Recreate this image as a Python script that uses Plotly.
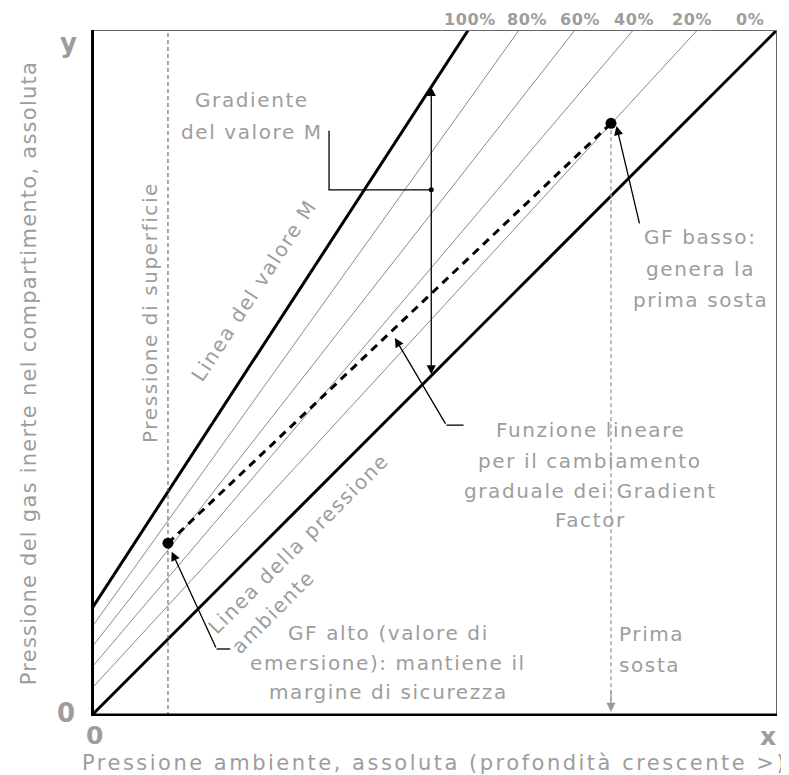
import plotly.graph_objects as go

# ---------------- data (diagram units, 0..100 on both axes) ----------------
gf_labels = ["100%", "80%", "60%", "40%", "20%", "0%"]
gf_intercepts = [15.45, 12.78, 9.87, 6.95, 3.89, 0.0]     # y at x = 0
gf_top_x = [55.0, 62.4, 70.55, 79.05, 88.4, 100.0]        # x where line reaches y = 100
gf_label_shift = [2, 8, 5, 1, -5, -27]                    # px nudge of top labels

surface_x = 11.22                      # surface pressure
gf_high = (11.22, 25.2)                # GF alto point
gf_low = (75.8, 86.4)                  # GF basso point (first stop)
gradient_x = 49.6                      # where the M-value gradient is shown

GRAY = "#9d9d9d"
FONT = "DejaVu Sans"
BODY = 20

fig = go.Figure()

# GF lines (100% = M-value line, 0% = ambient line)
for lab, b, tx in zip(gf_labels, gf_intercepts, gf_top_x):
    thick = lab in ("100%", "0%")
    fig.add_trace(go.Scatter(
        x=[0, tx], y=[b, 100], mode="lines",
        line=dict(color="black" if thick else "#8a8a8a", width=3 if thick else 1),
        hoverinfo="skip", showlegend=False))

# surface pressure dashed vertical
fig.add_trace(go.Scatter(x=[surface_x, surface_x], y=[0, 100], mode="lines",
                         line=dict(color="#555555", width=1, dash="4px,3px"),
                         hoverinfo="skip", showlegend=False))
# first stop dashed vertical (gray)
fig.add_trace(go.Scatter(x=[gf_low[0], gf_low[0]], y=[gf_low[1], 1.5], mode="lines",
                         line=dict(color="#999999", width=1.3, dash="4px,3px"),
                         hoverinfo="skip", showlegend=False))
# linear GF function
fig.add_trace(go.Scatter(x=[gf_high[0], gf_low[0]], y=[gf_high[1], gf_low[1]], mode="lines",
                         line=dict(color="black", width=3, dash="8px,6px"),
                         hoverinfo="skip", showlegend=False))
fig.add_trace(go.Scatter(x=[gf_high[0], gf_low[0]], y=[gf_high[1], gf_low[1]], mode="markers",
                         marker=dict(color="black", size=11),
                         hoverinfo="skip", showlegend=False))

# M-value gradient connector
m_b, m_tx = gf_intercepts[0], gf_top_x[0]
m_at = m_b + (100 - m_b) / m_tx * gradient_x
conn_g = ([34.7, 34.7, gradient_x], [85.3, 76.7, 76.7])
fig.add_trace(go.Scatter(x=conn_g[0], y=conn_g[1], mode="lines",
                         line=dict(color="black", width=1.3),
                         hoverinfo="skip", showlegend=False))
fig.add_trace(go.Scatter(x=[gradient_x], y=[76.7], mode="markers",
                         marker=dict(color="black", size=5),
                         hoverinfo="skip", showlegend=False))
# Funzione lineare connector (horizontal part)
fig.add_trace(go.Scatter(x=[54.3, 51.8], y=[42.4, 42.4], mode="lines",
                         line=dict(color="black", width=1.3),
                         hoverinfo="skip", showlegend=False))
# GF alto connector (horizontal part)
fig.add_trace(go.Scatter(x=[20.3, 18.3], y=[9.77, 9.77], mode="lines",
                         line=dict(color="black", width=1.3),
                         hoverinfo="skip", showlegend=False))

annotations = []


def arrow(x0, y0, x1, y1, color="black", side="end", width=1.3):
    annotations.append(dict(
        x=x1, y=y1, ax=x0, ay=y0, xref="x", yref="y", axref="x", ayref="y",
        showarrow=True, arrowhead=2, arrowsize=1.4, arrowwidth=width,
        arrowcolor=color, arrowside=side, text="", standoff=0, startstandoff=0))


def txt(x, y, s, size=BODY, color=GRAY, angle=0, bold=False, xanchor="center", ls=1.6):
    # positions given in diagram units (0..100) -> paper coordinates
    body = f"<b>{s}</b>" if bold else s
    annotations.append(dict(
        x=x / 100, y=y / 100, xref="paper", yref="paper",
        text=f"<span style='letter-spacing:{ls}px'>{body}</span>",
        showarrow=False, textangle=angle, xanchor=xanchor, yanchor="middle",
        font=dict(family=FONT, size=size, color=color)))


# arrows
arrow(gradient_x, gradient_x, gradient_x, m_at, side="end+start")
arrow(51.8, 42.4, 44.3, 55.1)
arrow(18.3, 9.77, 11.76, 23.95)
arrow(80.0, 71.6, 76.6, 86.0)
arrow(gf_low[0], 4.0, gf_low[0], 0.6, color="#999999")

# top GF labels
for lab, tx, sh in zip(gf_labels, gf_top_x, gf_label_shift):
    annotations.append(dict(x=tx / 100, y=1.0155, xref="paper", yref="paper", xshift=sh,
                            xanchor="center", yanchor="middle",
                            text=f"<span style='letter-spacing:0.6px'><b>{lab}</b></span>",
                            showarrow=False,
                            font=dict(family=FONT, size=16, color=GRAY)))

# text
txt(23.47, 89.8, "Gradiente")
txt(23.4, 85.1, "del valore M")
txt(8.6, 58.9, "Pressione di superficie", angle=-90)
txt(23.8, 62.1, "Linea del valore M", angle=-57)
txt(30.2, 25.1, "Linea della pressione", angle=-45)
txt(26.5, 15.2, "ambiente", angle=-45)
for s, yy in zip(["GF basso:", "genera la", "prima sosta"], [69.8, 65.2, 60.6]):
    txt(88.8, yy, s)
for s, yy in zip(["Funzione lineare", "per il cambiamento", "graduale dei Gradient", "Factor"],
                 [41.7, 37.2, 32.8, 28.6]):
    txt(72.8, yy, s)
for s, yy in zip(["GF alto (valore di", "emersione): mantiene il", "margine di sicurezza"],
                 [12.1, 7.7, 3.5]):
    txt(43.3, yy, s)
for s, yy in zip(["Prima", "sosta"], [12.0, 7.4]):
    txt(76.7, yy, s, xanchor="left")

txt(-3.35, 98.1, "y", size=26, bold=True, ls=0)
txt(-3.64, 0.44, "0", size=26, bold=True, ls=0)
txt(0.44, -2.9, "0", size=25, bold=True, ls=0)
txt(98.7, -3.0, "x", size=25, bold=True, ls=0)
txt(50.0, -6.85, "Pressione ambiente, assoluta (profondità crescente >)", size=21, ls=2.5)
txt(-9.0, 50.0, "Pressione del gas inerte nel compartimento, assoluta", size=21, angle=-90, ls=1.25)

shapes = [
    dict(type="line", xref="x", yref="y", x0=0, y0=100, x1=100, y1=100,
         line=dict(color="#666666", width=2)),
    dict(type="line", xref="x", yref="y", x0=100, y0=0, x1=100, y1=100,
         line=dict(color="#666666", width=2)),
    dict(type="line", xref="x", yref="y", x0=0, y0=0, x1=100, y1=0,
         line=dict(color="black", width=5)),
    dict(type="line", xref="x", yref="y", x0=0, y0=0, x1=0, y1=100,
         line=dict(color="black", width=6)),
]

# page body has an 8px margin: size/margins chosen so the plot area lands at
# x 91..777, y 30..716 in the 789x775 window
fig.update_layout(
    width=781, height=767,
    margin=dict(l=83, r=12, t=22, b=59),
    paper_bgcolor="white", plot_bgcolor="white",
    xaxis=dict(range=[0, 100], visible=False, fixedrange=True),
    yaxis=dict(range=[0, 100], visible=False, fixedrange=True),
    annotations=annotations, shapes=shapes, showlegend=False,
)

fig.write_html("out.html")
